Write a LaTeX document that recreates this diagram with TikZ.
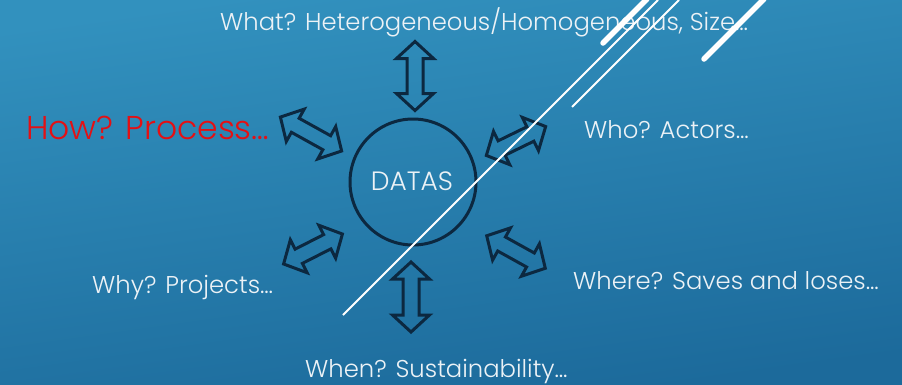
\documentclass[tikz,border=0pt]{standalone}
\usepackage{fontspec}
\setmainfont{Poppins}[UprightFont=* Light]
\definecolor{bgtop}{RGB}{50,145,190}
\definecolor{bgbot}{RGB}{28,106,155}
\definecolor{navy}{RGB}{12,40,64}
\definecolor{txt}{RGB}{236,242,246}
\definecolor{howred}{RGB}{228,16,20}
\tikzset{
  pics/dbl/.style={code={
    \draw[draw=navy, line width=3pt, line join=miter]
      (-#1,0) -- (-#1+17,18.5) -- (-#1+17,8) -- (#1-17,8) -- (#1-17,18.5) -- (#1,0)
      -- (#1-17,-18.5) -- (#1-17,-8) -- (-#1+17,-8) -- (-#1+17,-18.5) -- cycle;
  }},
  lab/.style={text=txt, inner sep=0pt, font=\fontsize{24.3}{28}\selectfont},
  thinln/.style={draw=white, line width=2pt},
  thickln/.style={draw=white, line width=5.5pt, line cap=round},
}
\begin{document}
\begin{tikzpicture}[x=1pt,y=-1pt]
\useasboundingbox (0,0) rectangle (902,384);
\shade[top color=bgtop, bottom color=bgbot, shading angle=8] (0,0) rectangle (902,384);

\node[circle, draw=navy, line width=3pt, minimum size=126pt, inner sep=0pt] (data) at (413,182) {};
\node[lab, font=\fontsize{26.5}{30}\selectfont] (datas) at (412,181) {DATAS};

\pic[rotate=90] (aN) at (415,76) {dbl=34.5};
\pic[rotate=90] (aS) at (411,297) {dbl=35};
\pic[rotate=-29] (aNW) at (311,134) {dbl=35};
\pic[rotate=26] (aNE) at (516,141) {dbl=33};
\pic[rotate=27] (aSW) at (313,249) {dbl=33};
\pic[rotate=-29] (aSE) at (516,252) {dbl=33.5};

\node[lab, anchor=base west] (what) at (220,30) {What? Heterogeneous/Homogeneous, Size\ldots};
\node[lab, text=howred, font=\fontsize{33}{38}\selectfont, anchor=base west] (how) at (26,139) {How? Process\ldots};
\node[lab, anchor=base west] (who) at (584,138) {Who? Actors\ldots};
\node[lab, anchor=base west] (why) at (92,293) {Why? Projects\ldots};
\node[lab, anchor=base west] (where) at (573,289) {Where? Saves and loses\ldots};
\node[lab, anchor=base west] (when) at (305,377) {When? Sustainability\ldots};

\coordinate (l1a) at (343,315); \coordinate (l1b) at (658,0);
\coordinate (l2a) at (572,107); \coordinate (l2b) at (679,0);
\coordinate (l3a) at (603,43);  \coordinate (l3b) at (647,-1);
\coordinate (l4a) at (704,59);  \coordinate (l4b) at (764,-1);
\draw[thinln] (l1a) -- (l1b);
\draw[thinln] (l2a) -- (l2b);
\draw[thickln] (l3a) -- (l3b);
\draw[thickln] (l4a) -- (l4b);
\end{tikzpicture}
\end{document}
